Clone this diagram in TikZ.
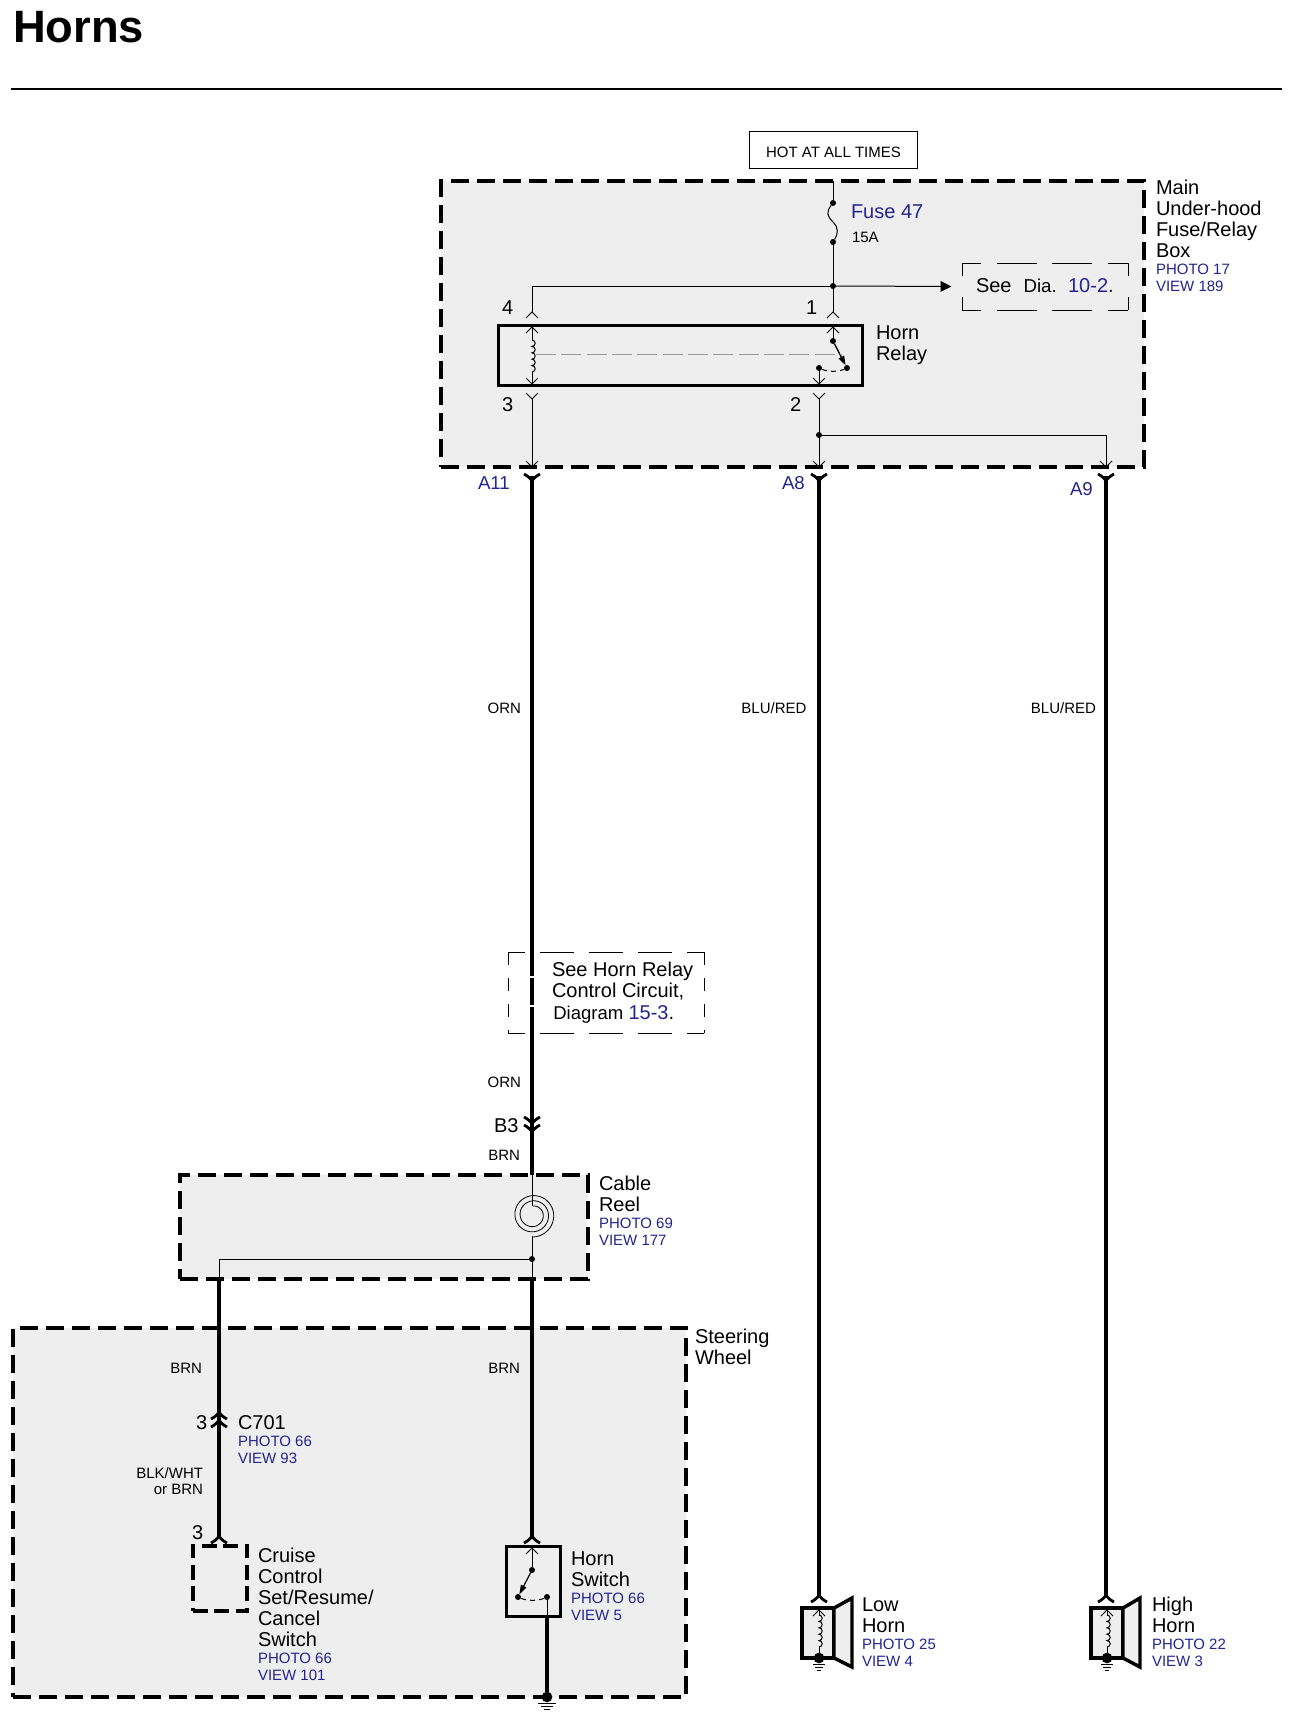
\documentclass[tikz,border=0pt]{standalone}
\usepackage{fontspec}
\setmainfont{Liberation Sans}
\usetikzlibrary{arrows.meta}
\definecolor{pan}{HTML}{EEEEEE}
\definecolor{linkblue}{HTML}{24248F}
\newcommand\fbig{\fontsize{15}{15.75}\selectfont}
\newcommand\fsmall{\fontsize{11.25}{12.75}\selectfont}
\newcommand\lnA[1]{\baselineskip=15.75pt\hbox{\fbig #1}}
\newcommand\lnB[1]{\baselineskip=12.75pt\hbox{\fsmall\color{linkblue}#1}}
\newcommand\stk[1]{\vtop{\lineskiplimit=-100pt\relax #1}}
\newcommand\chU[2]{\draw[chev] (#1-6,#2+6) -- (#1,#2) -- (#1+6,#2+6);}
\newcommand\chD[2]{\draw[chev] (#1-6,#2-6) -- (#1,#2) -- (#1+6,#2-6);}
\newcommand\tkU[2]{\draw[tchev] (#1-8,#2+7) .. controls (#1-4,#2+5) and (#1-1,#2+2) .. (#1,#2) .. controls (#1+1,#2+2) and (#1+4,#2+5) .. (#1+8,#2+7);}
\newcommand\tkD[2]{\draw[tchev] (#1-8,#2-7) .. controls (#1-4,#2-5) and (#1-1,#2-2) .. (#1,#2) .. controls (#1+1,#2-2) and (#1+4,#2-5) .. (#1+8,#2-7);}
\newcommand\gnd[3]{\draw[wire] (#1-#3,#2) -- (#1+#3,#2) (#1-0.68*#3,#2+3) -- (#1+0.68*#3,#2+3) (#1-0.36*#3,#2+6) -- (#1+0.36*#3,#2+6);}
\newcommand\coil[3]{\draw[wire] (#1,#2) \foreach \i in {1,...,#3}{ arc[start angle=-90,end angle=90,radius=3.2]};}
\newcommand\noteoutline[6]{%
  \draw[notedash,dash pattern=on #3*0.75pt off #4*0.75pt,dash phase=#5*0.75pt] (#1.north west) -- (#1.north east);
  \draw[notedash,dash pattern=on #3*0.75pt off #4*0.75pt,dash phase=#5*0.75pt] (#1.south west) -- (#1.south east);
  \draw[notedash,dash pattern=on 13*0.75pt off #6*0.75pt] (#1.north west) -- (#1.south west);
  \draw[notedash,dash pattern=on 13*0.75pt off #6*0.75pt] (#1.north east) -- (#1.south east);}
\tikzset{
  x=0.75pt,y=-0.75pt,
  wire/.style={line width=0.75pt,black},
  thick wire/.style={line width=3.7pt,black},
  chev/.style={line width=0.6pt,black},
  tchev/.style={line width=2.1pt,black},
  dotmark/.style={circle,fill=black,inner sep=0,outer sep=0,minimum size=4.5pt},
  bigdot/.style={circle,fill=black,inner sep=0,outer sep=0,minimum size=8pt},
  pbox/.style 2 args={rectangle,inner sep=0,outer sep=0,minimum width=#1*0.75pt,minimum height=#2*0.75pt},
  dashpanel/.style={draw=black,fill=pan,line width=2.3pt,dash pattern=on 13.5pt off 6pt},
  solidbox/.style={draw=black,line width=2.25pt},
  hornbox/.style={draw=black,line width=2.6pt},
  notedash/.style={line width=0.6pt,black},
  lab/.style={anchor=base west,inner sep=0,outer sep=0},
  wc/.style={anchor=base east,inner sep=0,outer sep=0,font=\fsmall},
  big/.style={anchor=base west,inner sep=0,outer sep=0,font=\fbig},
  blue label/.style={anchor=base west,inner sep=0,outer sep=0,font=\fontsize{14}{15}\selectfont,text=linkblue},
}
\begin{document}
\begin{tikzpicture}
\useasboundingbox (0,0) rectangle (1294,1718);
\fill[white] (0,0) rectangle (1294,1718);
% title
\node[lab,font=\bfseries\fontsize{34}{36}\selectfont] (title) at (13,42) {Horns};
\coordinate (ruleL) at (11,89);
\coordinate (ruleR) at (1282,89);
\draw[line width=1.9pt] (ruleL) -- (ruleR);
% panels
\node[pbox={703}{286},dashpanel] (main) at (792.5,324) {};
\node[pbox={408}{104},dashpanel] (reel) at (384,1227) {};
\node[pbox={673}{369},dashpanel] (wheel) at (349.5,1512.5) {};
\node[pbox={168}{37},draw=black,line width=1.2pt] (hot) at (833.5,150) {\raisebox{-1.5pt}[8pt][0pt]{\fontsize{11.25}{12}\selectfont HOT AT ALL TIMES}};
% coordinates
\coordinate (fuseTop) at (833,181);
\node[dotmark] (fuse1) at (833,203) {};
\node[dotmark] (fuse2) at (833,242) {};
\node[dotmark] (j1) at (833,286) {};
\coordinate (j4) at (532,286);
\coordinate (p4) at (532,312);
\coordinate (p1) at (833,312);
\coordinate (p3) at (532,399);
\coordinate (p2) at (819,399);
\coordinate (a11) at (532,467);
\coordinate (a8) at (819,467);
\coordinate (a9) at (1106,467);
\node[dotmark] (j2) at (819,435) {};
\coordinate (j2r) at (1106,435);
% relay
\node[pbox={364}{60},solidbox] (relay) at (680,355) {};
\coordinate (r4) at (532,327);
\coordinate (r4c) at (532,340);
\coordinate (r3c) at (532,372);
\coordinate (r3) at (532,384);
\coordinate (r1) at (833,327);
\node[dotmark] (s1) at (833,341) {};
\node[dotmark] (s2) at (847,368) {};
\node[dotmark] (s3) at (819,368) {};
\coordinate (r2) at (819,384);
\coordinate (linkL) at (536,354);
\coordinate (linkR) at (842,354);
% see dia box
\node[pbox={166}{47}] (seedia) at (1045,286.5) {};
\noteoutline{seedia}{}{40}{15.5}{21}{21}
\node[big,anchor=base west] (seedit) at (976,292) {See\hspace{9pt}{\fontsize{14}{14}\selectfont Dia.}\hspace{8.5pt}\textcolor{linkblue}{10-2}.};
% thin wires main box
\draw[wire] (fuseTop) -- (fuse1);
\draw[wire] (fuse1) .. controls (826,212) and (827,216) .. (833,222) .. controls (839,228) and (838,234) .. (fuse2);
\draw[wire] (fuse2) -- (j1) -- (p1);
\draw[wire] (j4) -- (j1);
\draw[wire] (j4) -- (p4);
\draw[wire,-{Triangle[length=8pt,width=8pt]},shorten >=8pt] (j1) -- (seedia.west);
\draw[wire] (p3) -- (a11);
\draw[wire] (p2) -- (a8);
\draw[wire] (j2) -- (j2r) -- (a9);
\draw[wire] (r4) -- (r4c) (r3c) -- (r3);
\coil{532}{340}{5}
\draw[wire] (r1) -- (s1);
\draw[wire] (s3) -- (r2);
\draw[line width=1pt,-{Triangle[length=7pt,width=4.5pt]}] (s1) -- (s2);
\draw[wire,dash pattern=on 4pt off 3pt] (s3) .. controls (828,372) and (838,372) .. (s2);
\draw[line width=0.6pt,draw=black!40,dash pattern=on 15pt off 4pt] (linkL) -- (linkR);
\chU{532}{312}\chU{833}{312}\chU{532}{327}\chU{833}{327}
\chD{532}{384}\chD{819}{384}\chD{532}{399}\chD{819}{399}
\chD{532}{467}\chD{819}{467}\chD{1106}{467}
% main vertical wires
\coordinate (w1top) at (532,476);
\coordinate (b3) at (532,1127);
\coordinate (reelT) at (532,1175);
\coordinate (w2top) at (819,476);
\coordinate (w2bot) at (819,1596);
\coordinate (w3top) at (1106,476);
\coordinate (w3bot) at (1106,1596);
\draw[thick wire] (w1top) -- (reelT);
\draw[thick wire] (w2top) -- (w2bot);
\draw[thick wire] (w3top) -- (w3bot);
\tkD{532}{481}\tkD{819}{481}\tkD{1106}{481}
\tkD{532}{1124}\tkD{532}{1132}
\draw[white,line width=2pt] (527,977) -- (537,977) (527,1006) -- (537,1006);
% note box
\node[pbox={196}{81}] (seectl) at (606,992.5) {};
\noteoutline{seectl}{}{34}{15}{17}{13}
\node[lab] (seectlt) at (552,976) {\stk{\lnA{See Horn Relay}\lnA{Control Circuit,}\vskip0.8pt\hbox{\kern1pt\fontsize{13.9}{15}\selectfont Diagram \fbig\textcolor{linkblue}{15-3}.}}};
% cable reel
\coordinate (spTop) at (532,1206);
\coordinate (spBot) at (532,1236);
\node[dotmark] (j3) at (532,1259) {};
\coordinate (j3l) at (219,1259);
\coordinate (reelL) at (219,1279);
\coordinate (reelB) at (532,1279);
\draw[wire] (reelT) -- (spTop);
\draw[line width=0.6pt,smooth] plot[domain=-90:810,samples=120] ({533+(9+13*(\x+90)/900)*cos(\x)},{1215+(9+13*(\x+90)/900)*sin(\x)});
\draw[wire] (spBot) -- (j3) -- (reelB);
\draw[wire] (j3) -- (j3l) -- (reelL);
% steering wheel wires
\coordinate (hsT) at (532,1536);
\coordinate (ccT) at (219,1537);
\draw[thick wire] (reelB) -- (hsT);
\draw[thick wire] (reelL) -- (ccT);
\tkU{219}{1412}\tkU{219}{1420}
\tkU{219}{1536}\tkU{532}{1536}
% cruise control
\node[pbox={54}{65},draw=black,line width=2.3pt,dash pattern=on 11pt off 5pt] (cruise) at (220,1578.5) {};
% horn switch
\node[pbox={54}{70},solidbox] (hswitch) at (533,1581) {};
\coordinate (hi) at (532,1548);
\node[dotmark] (hs1) at (532,1570) {};
\node[dotmark] (hs2) at (518,1597) {};
\node[dotmark] (hs3) at (547,1597) {};
\coordinate (hsB) at (547,1616);
\node[bigdot] (gj) at (547,1697) {};
\draw[wire] (hi) -- (hs1);
\draw[line width=0.9pt,-{Triangle[length=7pt,width=4.5pt]}] (hs1) -- (hs2);
\draw[wire,dash pattern=on 4pt off 3pt] (hs2) .. controls (527,1601) and (538,1601) .. (hs3);
\draw[wire] (hs3) -- (hsB);
\draw[thick wire] (hsB) -- (gj);
\chU{532}{1548}
\gnd{547}{1703}{9}
% low horn
\node[pbox={32}{50},hornbox,fill=pan] (lowb) at (818,1633) {};
\draw[hornbox,fill=pan] (834,1608) -- (852,1598) -- (852,1667) -- (834,1658) -- cycle;
\tkU{819}{1595}
\coordinate (li) at (819,1610);
\coordinate (lc) at (819,1615);
\coordinate (lcb) at (819,1647);
\node[bigdot] (lg) at (819,1658) {};
\draw[wire] (li) -- (lc) (lcb) -- (lg);
\coil{819}{1615}{5}
\chU{819}{1610}
\gnd{819}{1664}{6}
% high horn
\node[pbox={32}{50},hornbox,fill=pan] (highb) at (1107,1633) {};
\draw[hornbox,fill=pan] (1123,1608) -- (1140,1598) -- (1140,1667) -- (1123,1658) -- cycle;
\tkU{1106}{1595}
\coordinate (hii) at (1107,1610);
\coordinate (hc) at (1107,1615);
\coordinate (hcb) at (1107,1647);
\node[bigdot] (hg) at (1107,1658) {};
\draw[wire] (hii) -- (hc) (hcb) -- (hg);
\coil{1107}{1615}{5}
\chU{1107}{1610}
\gnd{1107}{1664}{6}
% labels
\node[lab] (lmain) at (1156,194) {\stk{\lnA{Main}\lnA{Under-hood}\lnA{Fuse/Relay}\lnA{Box}\lnB{PHOTO 17}\lnB{VIEW 189}}};
\node[lab] (lrelay) at (876,339) {\stk{\lnA{Horn}\lnA{Relay}}};
\node[big,text=linkblue] (lfuse) at (851,218) {Fuse 47};
\node[lab,font=\fsmall] (l15) at (852,242) {15A};
\node[big] (n4) at (502,314) {4};
\node[big] (n1) at (806,314) {1};
\node[big] (n3) at (502,411) {3};
\node[big] (n2) at (790,411) {2};
\node[blue label] (la11) at (478,489) {A11};
\node[blue label] (la8) at (782,489) {A8};
\node[blue label] (la9) at (1070,495) {A9};
\node[wc] (c1) at (521,713) {ORN};
\node[wc] (c2) at (806.5,713) {BLU/RED};
\node[wc] (c3) at (1096,713) {BLU/RED};
\node[wc] (c4) at (521,1087) {ORN};
\node[wc] (c5) at (520,1160) {BRN};
\node[wc] (c6) at (520,1373) {BRN};
\node[wc] (c7) at (202,1373) {BRN};
\node[wc] (c8) at (203,1478) {BLK/WHT};
\node[wc] (c9) at (203,1494) {or BRN};
\node[big] (lb3) at (494,1132) {B3};
\node[lab] (lreel) at (599,1190) {\stk{\lnA{Cable}\lnA{Reel}\lnB{PHOTO 69}\lnB{VIEW 177}}};
\node[lab] (lwheel) at (695,1343) {\stk{\lnA{Steering}\lnA{Wheel}}};
\node[big] (n3a) at (196,1429) {3};
\node[lab] (lc701) at (238,1429) {\stk{\lnA{C701}\lnB{PHOTO 66}\lnB{VIEW 93}}};
\node[big] (n3b) at (192,1539) {3};
\node[lab] (lcruise) at (258,1562) {\stk{\lnA{Cruise}\lnA{Control}\lnA{Set/Resume/}\lnA{Cancel}\lnA{Switch}\lnB{PHOTO 66}\lnB{VIEW 101}}};
\node[lab] (lhs) at (571,1565) {\stk{\lnA{Horn}\lnA{Switch}\lnB{PHOTO 66}\lnB{VIEW 5}}};
\node[lab] (llow) at (862,1611) {\stk{\lnA{Low}\lnA{Horn}\lnB{PHOTO 25}\lnB{VIEW 4}}};
\node[lab] (lhigh) at (1152,1611) {\stk{\lnA{High}\lnA{Horn}\lnB{PHOTO 22}\lnB{VIEW 3}}};
\end{tikzpicture}
\end{document}
